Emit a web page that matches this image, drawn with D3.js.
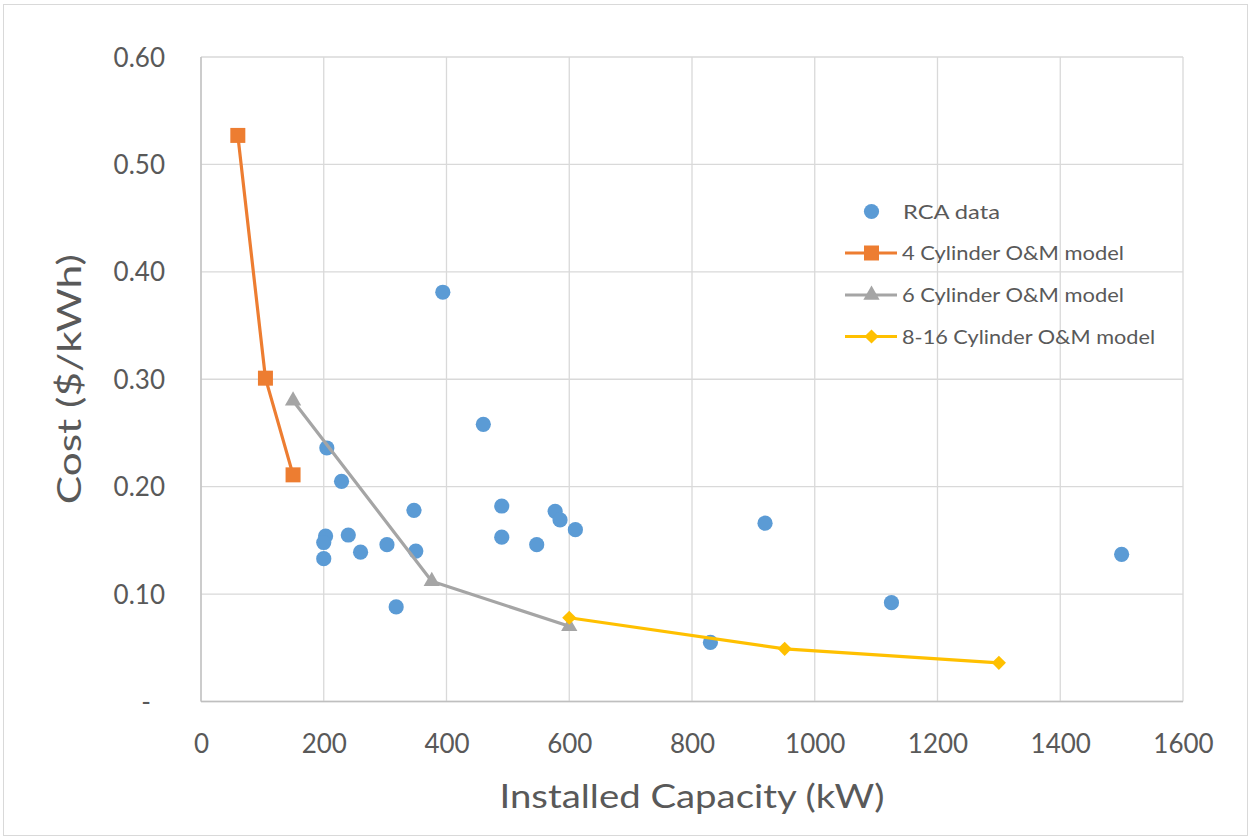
<!DOCTYPE html>
<html>
<head>
<meta charset="utf-8">
<script src="https://cdn.jsdelivr.net/npm/d3@7/dist/d3.min.js"></script>
<style>
  html, body { margin: 0; padding: 0; background: #fff; }
  svg { display: block; font-family: Lato, "Open Sans", sans-serif; }
</style>
</head>
<body>
<svg id="chart" width="1250" height="839"></svg>
<script>
// ---- data ----
const rcaX = [394, 460, 205, 229, 347, 490, 577, 585, 610, 203, 200, 240, 200, 260, 303, 350, 490, 547, 318, 830, 919, 1125, 1500];
const rcaY = [0.381, 0.258, 0.236, 0.205, 0.178, 0.182, 0.177, 0.169, 0.160, 0.154, 0.148, 0.155, 0.133, 0.139, 0.146, 0.140, 0.153, 0.146, 0.088, 0.055, 0.166, 0.092, 0.137];

const cyl4X = [60, 105, 150];
const cyl4Y = [0.527, 0.301, 0.211];
const cyl6X = [150, 376, 600];
const cyl6Y = [0.280, 0.112, 0.070];
const cyl816X = [600, 951, 1300];
const cyl816Y = [0.078, 0.049, 0.036];

const xTicks = [0, 200, 400, 600, 800, 1000, 1200, 1400, 1600];
const yTicks = [0, 0.1, 0.2, 0.3, 0.4, 0.5, 0.6];
const yTickLabels = ["-", "0.10", "0.20", "0.30", "0.40", "0.50", "0.60"];

const seriesNames = ["RCA data", "4 Cylinder O&M model", "6 Cylinder O&M model", "8-16 Cylinder O&M model"];
const colors = ["#5B9BD5", "#ED7D31", "#A5A5A5", "#FFC000"];

const xTitle = "Installed Capacity (kW)";
const yTitle = "Cost ($/kWh)";

(function () {
// ---- layout ----
const svg = d3.select("#chart");
const pL = 201, pR = 1183, pT = 57, pB = 701.5;
const x = d3.scaleLinear().domain([0, 1600]).range([pL, pR]);
const y = d3.scaleLinear().domain([0, 0.6]).range([pB, pT]);
const textColor = "#595959";
const gridColor = "#D9D9D9";

// outer chart border
svg.append("rect").attr("x", 3.5).attr("y", 4.5).attr("width", 1244).attr("height", 831)
  .attr("fill", "#fff").attr("stroke", "#D9D9D9").attr("stroke-width", 1);

// gridlines
const grid = svg.append("g");
grid.selectAll("line.v").data(xTicks).join("line").attr("class", "v")
  .attr("x1", d => x(d)).attr("x2", d => x(d)).attr("y1", pT).attr("y2", pB)
  .attr("stroke", gridColor).attr("stroke-width", 1.3);
grid.selectAll("line.h").data(yTicks).join("line").attr("class", "h")
  .attr("x1", pL).attr("x2", pR).attr("y1", d => y(d)).attr("y2", d => y(d))
  .attr("stroke", gridColor).attr("stroke-width", 1.3);
// axis lines
svg.append("line").attr("x1", pL).attr("x2", pL).attr("y1", pT).attr("y2", pB)
  .attr("stroke", "#BFBFBF").attr("stroke-width", 1.3);
svg.append("line").attr("x1", pL).attr("x2", pR).attr("y1", pB).attr("y2", pB)
  .attr("stroke", "#BFBFBF").attr("stroke-width", 1.3);

// axes via d3 (labels only)
const xAxis = d3.axisBottom(x).tickValues(xTicks).tickSize(0).tickPadding(0).tickFormat(d3.format("d"));
const gx = svg.append("g").attr("transform", `translate(0,${pB + 42})`).call(xAxis);
gx.select(".domain").remove();
gx.selectAll("text").attr("font-size", 26).attr("fill", textColor)
  .attr("font-family", "Lato, sans-serif").attr("y", 0).attr("dy", "0.35em");

const yAxis = d3.axisLeft(y).tickValues(yTicks).tickSize(0).tickPadding(0)
  .tickFormat((d, i) => yTickLabels[i]);
const gy = svg.append("g").attr("transform", `translate(${pL - 36},0)`).call(yAxis);
gy.select(".domain").remove();
gy.selectAll("text").attr("font-size", 26).attr("fill", textColor)
  .attr("font-family", "Lato, sans-serif").attr("dy", "0.35em")
  .attr("x", (d, i) => i === 0 ? -19 : 0)
  .attr("text-anchor", (d, i) => i === 0 ? "middle" : "end");

// axis titles
svg.append("text").attr("x", (pL + pR) / 2).attr("y", 797).attr("dy", "0.35em")
  .attr("text-anchor", "middle").attr("font-size", 32).attr("fill", textColor)
  .attr("textLength", 385).attr("lengthAdjust", "spacingAndGlyphs").text(xTitle);
svg.append("text").attr("transform", `translate(70,${(pT + pB) / 2}) rotate(-90)`)
  .attr("dy", "0.35em").attr("text-anchor", "middle").attr("font-size", 32).attr("fill", textColor)
  .attr("textLength", 250).attr("lengthAdjust", "spacingAndGlyphs").text(yTitle);

// markers
const sq = d3.symbol().type(d3.symbolSquare).size(225);
const tri = d3.symbol().type(d3.symbolTriangle).size(115);
const dia = d3.symbol().type(d3.symbolSquare).size(100);

function drawLineSeries(xs, ys, color, symbolGen, rotate) {
  const pts = xs.map((v, i) => [v, ys[i]]);
  const line = d3.line().x(d => x(d[0])).y(d => y(d[1]));
  svg.append("path").datum(pts).attr("d", line).attr("fill", "none")
    .attr("stroke", color).attr("stroke-width", 3.2).attr("stroke-linejoin", "round");
  svg.append("g").selectAll("path").data(pts).join("path")
    .attr("d", symbolGen())
    .attr("transform", d => `translate(${x(d[0])},${y(d[1])})${rotate ? " rotate(45)" : ""}`)
    .attr("fill", color);
}

// RCA scatter
svg.append("g").selectAll("circle").data(rcaX.map((v, i) => [v, rcaY[i]])).join("circle")
  .attr("cx", d => x(d[0])).attr("cy", d => y(d[1])).attr("r", 7.6).attr("fill", colors[0]);

drawLineSeries(cyl6X, cyl6Y, colors[2], tri, false);
drawLineSeries(cyl4X, cyl4Y, colors[1], sq, false);
drawLineSeries(cyl816X, cyl816Y, colors[3], dia, true);

// legend
const legRows = [211.5, 253, 295, 336.5];
const legLens = [97, 222, 222, 253];
const leg = svg.append("g");
seriesNames.forEach((name, i) => {
  const yy = legRows[i];
  if (i === 0) {
    leg.append("circle").attr("cx", 871.5).attr("cy", yy).attr("r", 7.6).attr("fill", colors[0]);
  } else {
    leg.append("line").attr("x1", 845).attr("x2", 897).attr("y1", yy).attr("y2", yy)
      .attr("stroke", colors[i]).attr("stroke-width", 3.2);
    const gen = i === 1 ? sq : (i === 2 ? tri : dia);
    leg.append("path").attr("d", gen())
      .attr("transform", `translate(871.5,${yy})${i === 3 ? " rotate(45)" : ""}`)
      .attr("fill", colors[i]);
  }
  leg.append("text").attr("x", i === 0 ? 903 : 902).attr("y", yy).attr("dy", "0.35em")
    .attr("font-size", 20).attr("fill", textColor)
    .attr("textLength", legLens[i]).attr("lengthAdjust", "spacingAndGlyphs")
    .text(name);
});
})();
</script>
</body>
</html>
